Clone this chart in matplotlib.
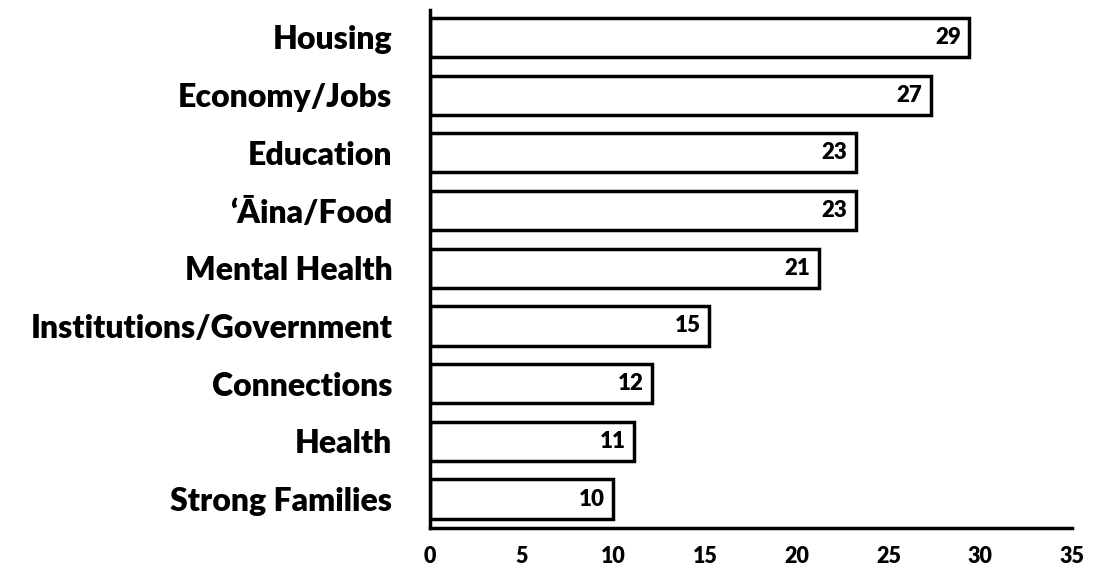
import numpy as np
import matplotlib.pyplot as plt

plt.rcParams['font.family'] = ['Lato', 'DejaVu Sans']

categories = ['Housing', 'Economy/Jobs', 'Education', '\u2018\u0100ina/Food', 'Mental Health',
              'Institutions/Government', 'Connections', 'Health', 'Strong Families']
values = [29.4, 27.3, 23.2, 23.2, 21.2, 15.2, 12.1, 11.1, 10.0]
labels = ['29', '27', '23', '23', '21', '15', '12', '11', '10']
xticks = [0, 5, 10, 15, 20, 25, 30, 35]

fig = plt.figure(figsize=(10.94, 5.75), dpi=100)
ax = fig.add_axes([0.393, 0.082, 0.587, 0.901])

y = np.arange(len(categories))
bars = ax.barh(y, values, height=0.68, color='white', edgecolor='black', linewidth=2.5)
for b, lab in zip(bars, labels):
    ax.text(b.get_width() - 0.45, b.get_y() + b.get_height() / 2, lab,
            ha='right', va='center', fontsize=16, fontweight='heavy')

ax.set_ylim(len(categories) - 0.5, -0.48)
ax.set_xlim(0, 35)
ax.set_yticks(y)
ax.set_yticklabels(categories, fontsize=23, fontweight='heavy')
ax.set_xticks(xticks)
ax.set_xticklabels([str(t) for t in xticks], fontsize=15.5, fontweight='heavy')
ax.tick_params(axis='both', length=0)
ax.tick_params(axis='y', pad=27)
ax.tick_params(axis='x', pad=13)
for s in ['top', 'right']:
    ax.spines[s].set_visible(False)
for s in ['left', 'bottom']:
    ax.spines[s].set_linewidth(2.5)

fig.savefig('out.png', dpi=100)
